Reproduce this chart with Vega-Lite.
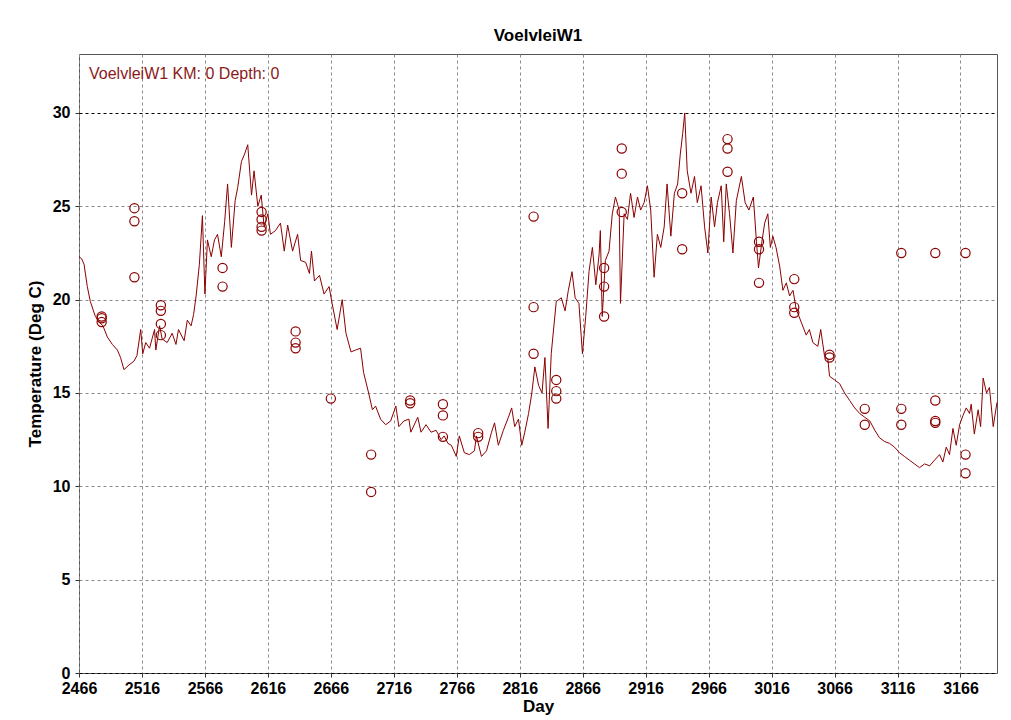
{
  "$schema": "https://vega.github.io/schema/vega-lite/v6.json",
  "width": 918,
  "height": 619,
  "autosize": {"type": "none"},
  "padding": {"left": 79, "top": 54, "right": 14, "bottom": 47},
  "background": "white",
  "title": {"text": "VoelvleiW1", "font": "Liberation Sans", "fontSize": 17, "fontWeight": "bold", "color": "#000000", "anchor": "middle", "offset": 9},
  "config": {
    "view": {"stroke": "#555555", "strokeWidth": 1},
    "font": "Liberation Sans",
    "axis": {"labelFont": "Liberation Sans", "labelFontSize": 16, "labelFontWeight": "bold", "labelColor": "#000000", "titleFont": "Liberation Sans", "titleFontSize": 17, "titleFontWeight": "bold", "titleColor": "#000000", "tickColor": "#333333", "tickSize": 4, "domain": false, "gridDash": [3, 3], "gridWidth": 1}
  },
  "datasets": {
    "sim": [
      {"day": 2466, "temp": 22.3}, {"day": 2468, "temp": 22.2}, {"day": 2470, "temp": 21.9}, {"day": 2472.6, "temp": 20.7}, {"day": 2475, "temp": 19.9}, {"day": 2479, "temp": 19.1}, {"day": 2482, "temp": 18.8}, {"day": 2485, "temp": 18.6}, {"day": 2488.5, "temp": 18.0}, {"day": 2492.5, "temp": 17.6}, {"day": 2496.5, "temp": 17.3}, {"day": 2499, "temp": 16.9}, {"day": 2501.7, "temp": 16.25}, {"day": 2505.7, "temp": 16.5}, {"day": 2509.6, "temp": 16.7}, {"day": 2512, "temp": 17.0}, {"day": 2515, "temp": 18.4}, {"day": 2516.6, "temp": 17.1}, {"day": 2519, "temp": 17.7}, {"day": 2522, "temp": 17.4}, {"day": 2526, "temp": 18.4}, {"day": 2527, "temp": 17.3}, {"day": 2530, "temp": 18.6}, {"day": 2532, "temp": 17.9}, {"day": 2536, "temp": 17.7}, {"day": 2540, "temp": 18.2}, {"day": 2543, "temp": 17.6}, {"day": 2545, "temp": 18.4}, {"day": 2549.5, "temp": 17.8}, {"day": 2552, "temp": 18.9}, {"day": 2555, "temp": 18.6}, {"day": 2557, "temp": 19.2}, {"day": 2559, "temp": 20.2}, {"day": 2561.6, "temp": 21.9}, {"day": 2564, "temp": 24.5}, {"day": 2566, "temp": 20.3}, {"day": 2568, "temp": 23.2}, {"day": 2571, "temp": 22.3}, {"day": 2573.6, "temp": 23.2}, {"day": 2576, "temp": 23.5}, {"day": 2579, "temp": 22.3}, {"day": 2581.7, "temp": 24.2}, {"day": 2584, "temp": 26.2}, {"day": 2587, "temp": 22.8}, {"day": 2590, "temp": 25.3}, {"day": 2592, "temp": 26.0}, {"day": 2595, "temp": 27.4}, {"day": 2597.5, "temp": 27.8}, {"day": 2600, "temp": 28.3}, {"day": 2603, "temp": 25.6}, {"day": 2605, "temp": 26.9}, {"day": 2608, "temp": 25.0}, {"day": 2610.7, "temp": 25.6}, {"day": 2613, "temp": 23.9}, {"day": 2616, "temp": 24.6}, {"day": 2618, "temp": 23.5}, {"day": 2622, "temp": 23.7}, {"day": 2626, "temp": 24.1}, {"day": 2629, "temp": 22.6}, {"day": 2631.7, "temp": 24.0}, {"day": 2635.6, "temp": 22.6}, {"day": 2639.6, "temp": 23.5}, {"day": 2642, "temp": 22.1}, {"day": 2646, "temp": 22.0}, {"day": 2649, "temp": 21.4}, {"day": 2650.6, "temp": 22.6}, {"day": 2653, "temp": 21.0}, {"day": 2657, "temp": 21.3}, {"day": 2660.6, "temp": 20.3}, {"day": 2664.6, "temp": 20.7}, {"day": 2667, "temp": 19.8}, {"day": 2671, "temp": 18.4}, {"day": 2675, "temp": 20.0}, {"day": 2678, "temp": 18.2}, {"day": 2682, "temp": 17.2}, {"day": 2685.6, "temp": 17.3}, {"day": 2689.6, "temp": 17.4}, {"day": 2692, "temp": 16.1}, {"day": 2696, "temp": 15.0}, {"day": 2699, "temp": 14.1}, {"day": 2701.5, "temp": 14.3}, {"day": 2705.5, "temp": 13.6}, {"day": 2709.5, "temp": 13.3}, {"day": 2713.5, "temp": 13.5}, {"day": 2717.6, "temp": 14.3}, {"day": 2720, "temp": 13.2}, {"day": 2724, "temp": 13.5}, {"day": 2728, "temp": 13.6}, {"day": 2729.5, "temp": 12.9}, {"day": 2735, "temp": 13.7}, {"day": 2737.6, "temp": 12.9}, {"day": 2741.6, "temp": 13.3}, {"day": 2745.6, "temp": 12.9}, {"day": 2749.6, "temp": 13.0}, {"day": 2753.5, "temp": 12.5}, {"day": 2756, "temp": 12.7}, {"day": 2759, "temp": 12.3}, {"day": 2761.7, "temp": 12.2}, {"day": 2765.6, "temp": 11.6}, {"day": 2768, "temp": 12.7}, {"day": 2772, "temp": 11.8}, {"day": 2776, "temp": 11.7}, {"day": 2780, "temp": 11.9}, {"day": 2781.6, "temp": 12.7}, {"day": 2785.6, "temp": 11.6}, {"day": 2789.6, "temp": 11.9}, {"day": 2793.6, "temp": 12.9}, {"day": 2796, "temp": 13.4}, {"day": 2799, "temp": 12.2}, {"day": 2803, "temp": 13.0}, {"day": 2807, "temp": 13.7}, {"day": 2809.6, "temp": 14.2}, {"day": 2812, "temp": 13.2}, {"day": 2815, "temp": 13.6}, {"day": 2817.6, "temp": 12.2}, {"day": 2820, "temp": 12.9}, {"day": 2823, "temp": 13.9}, {"day": 2825.6, "temp": 15.0}, {"day": 2828, "temp": 16.4}, {"day": 2831, "temp": 15.4}, {"day": 2833.7, "temp": 15.0}, {"day": 2836, "temp": 16.9}, {"day": 2838.5, "temp": 13.1}, {"day": 2841, "temp": 17.1}, {"day": 2845, "temp": 19.9}, {"day": 2849, "temp": 20.1}, {"day": 2852, "temp": 19.4}, {"day": 2854.6, "temp": 20.5}, {"day": 2857.5, "temp": 21.5}, {"day": 2860, "temp": 20.1}, {"day": 2863, "temp": 19.8}, {"day": 2865.8, "temp": 17.1}, {"day": 2868.4, "temp": 19.1}, {"day": 2871, "temp": 21.5}, {"day": 2873.7, "temp": 22.8}, {"day": 2876.4, "temp": 20.8}, {"day": 2879, "temp": 22.4}, {"day": 2880, "temp": 23.7}, {"day": 2881.5, "temp": 19.1}, {"day": 2884, "temp": 22.1}, {"day": 2886.9, "temp": 22.6}, {"day": 2889.5, "temp": 24.6}, {"day": 2892, "temp": 25.5}, {"day": 2895, "temp": 24.8}, {"day": 2896, "temp": 19.8}, {"day": 2898.9, "temp": 24.6}, {"day": 2901.5, "temp": 24.3}, {"day": 2904, "temp": 25.7}, {"day": 2906.8, "temp": 24.4}, {"day": 2909.5, "temp": 25.5}, {"day": 2912, "temp": 24.8}, {"day": 2914.8, "temp": 25.2}, {"day": 2917.4, "temp": 26.1}, {"day": 2920, "temp": 24.8}, {"day": 2922.7, "temp": 21.2}, {"day": 2925.3, "temp": 23.5}, {"day": 2928, "temp": 22.8}, {"day": 2930.7, "temp": 23.9}, {"day": 2933, "temp": 26.2}, {"day": 2936, "temp": 23.4}, {"day": 2938.8, "temp": 25.7}, {"day": 2941.4, "temp": 26.2}, {"day": 2943.5, "temp": 27.8}, {"day": 2945.4, "temp": 28.9}, {"day": 2947, "temp": 30.0}, {"day": 2949, "temp": 26.9}, {"day": 2952, "temp": 25.7}, {"day": 2954.8, "temp": 26.6}, {"day": 2957, "temp": 25.2}, {"day": 2960, "temp": 26.1}, {"day": 2962.8, "temp": 23.9}, {"day": 2965.4, "temp": 22.5}, {"day": 2968, "temp": 25.5}, {"day": 2970.7, "temp": 23.9}, {"day": 2973, "temp": 25.2}, {"day": 2976, "temp": 26.1}, {"day": 2978, "temp": 23.1}, {"day": 2980, "temp": 26.2}, {"day": 2982.6, "temp": 24.6}, {"day": 2985.3, "temp": 22.5}, {"day": 2988, "temp": 25.3}, {"day": 2992, "temp": 26.6}, {"day": 2995, "temp": 25.2}, {"day": 2998, "temp": 24.8}, {"day": 3001.5, "temp": 25.5}, {"day": 3004, "temp": 23.1}, {"day": 3005.6, "temp": 21.7}, {"day": 3008.3, "temp": 23.1}, {"day": 3010.5, "temp": 24.1}, {"day": 3013, "temp": 24.6}, {"day": 3015, "temp": 22.8}, {"day": 3017, "temp": 23.4}, {"day": 3019.5, "temp": 22.8}, {"day": 3022.4, "temp": 21.8}, {"day": 3025, "temp": 20.5}, {"day": 3027.7, "temp": 20.9}, {"day": 3030.3, "temp": 20.2}, {"day": 3033, "temp": 20.5}, {"day": 3035.5, "temp": 19.5}, {"day": 3039.5, "temp": 18.8}, {"day": 3043.5, "temp": 18.1}, {"day": 3046, "temp": 18.4}, {"day": 3048.8, "temp": 17.7}, {"day": 3052.7, "temp": 17.5}, {"day": 3055, "temp": 18.4}, {"day": 3058, "temp": 17.0}, {"day": 3060.7, "temp": 16.8}, {"day": 3062, "temp": 15.9}, {"day": 3066, "temp": 15.7}, {"day": 3070, "temp": 15.5}, {"day": 3074, "temp": 15.0}, {"day": 3078, "temp": 14.6}, {"day": 3082, "temp": 14.2}, {"day": 3086, "temp": 13.9}, {"day": 3090, "temp": 13.7}, {"day": 3094, "temp": 13.5}, {"day": 3098, "temp": 13.0}, {"day": 3101.7, "temp": 12.6}, {"day": 3105.7, "temp": 12.4}, {"day": 3109.7, "temp": 12.3}, {"day": 3113.6, "temp": 12.1}, {"day": 3117.6, "temp": 11.8}, {"day": 3121.5, "temp": 11.6}, {"day": 3125.5, "temp": 11.4}, {"day": 3129.5, "temp": 11.2}, {"day": 3133.5, "temp": 11.0}, {"day": 3137.5, "temp": 11.2}, {"day": 3141.5, "temp": 11.1}, {"day": 3145.4, "temp": 11.4}, {"day": 3149.4, "temp": 11.7}, {"day": 3152, "temp": 11.3}, {"day": 3154.7, "temp": 12.1}, {"day": 3157.3, "temp": 11.7}, {"day": 3160, "temp": 13.1}, {"day": 3162.6, "temp": 12.2}, {"day": 3165.3, "temp": 13.3}, {"day": 3168, "temp": 13.8}, {"day": 3170.6, "temp": 14.2}, {"day": 3173.2, "temp": 13.9}, {"day": 3174.5, "temp": 14.4}, {"day": 3177, "temp": 12.8}, {"day": 3180, "temp": 14.1}, {"day": 3182, "temp": 13.2}, {"day": 3184, "temp": 15.8}, {"day": 3186.7, "temp": 15.0}, {"day": 3189, "temp": 15.3}, {"day": 3192, "temp": 13.2}, {"day": 3195, "temp": 14.5}
    ],
    "obs": [
      {"day": 2484, "temp": 19.1}, {"day": 2484, "temp": 19.0}, {"day": 2484, "temp": 18.8},
      {"day": 2510, "temp": 24.9}, {"day": 2510, "temp": 24.2}, {"day": 2510, "temp": 21.2},
      {"day": 2531, "temp": 19.7}, {"day": 2531, "temp": 19.4}, {"day": 2531, "temp": 18.7}, {"day": 2531, "temp": 18.1},
      {"day": 2580, "temp": 21.7}, {"day": 2580, "temp": 20.7},
      {"day": 2611, "temp": 24.7}, {"day": 2611, "temp": 24.3}, {"day": 2611, "temp": 23.9}, {"day": 2611, "temp": 23.7},
      {"day": 2638, "temp": 18.3}, {"day": 2638, "temp": 17.7}, {"day": 2638, "temp": 17.4},
      {"day": 2666, "temp": 14.7},
      {"day": 2698, "temp": 11.7}, {"day": 2698, "temp": 9.7},
      {"day": 2729, "temp": 14.6}, {"day": 2729, "temp": 14.45},
      {"day": 2755, "temp": 14.4}, {"day": 2755, "temp": 13.8}, {"day": 2755, "temp": 12.65},
      {"day": 2783, "temp": 12.85}, {"day": 2783, "temp": 12.65},
      {"day": 2827, "temp": 24.45}, {"day": 2827, "temp": 19.6}, {"day": 2827, "temp": 17.1},
      {"day": 2845, "temp": 15.7}, {"day": 2845, "temp": 15.1}, {"day": 2845, "temp": 14.7},
      {"day": 2883, "temp": 21.7}, {"day": 2883, "temp": 20.7}, {"day": 2883, "temp": 19.1},
      {"day": 2897, "temp": 28.1}, {"day": 2897, "temp": 26.75}, {"day": 2897, "temp": 24.7},
      {"day": 2945, "temp": 25.7}, {"day": 2945, "temp": 22.7},
      {"day": 2981, "temp": 28.6}, {"day": 2981, "temp": 28.1}, {"day": 2981, "temp": 26.85},
      {"day": 3006, "temp": 23.1}, {"day": 3006, "temp": 22.7}, {"day": 3006, "temp": 20.9},
      {"day": 3034, "temp": 21.1}, {"day": 3034, "temp": 19.6}, {"day": 3034, "temp": 19.3},
      {"day": 3062, "temp": 17.05}, {"day": 3062, "temp": 16.9},
      {"day": 3090, "temp": 14.15}, {"day": 3090, "temp": 13.3},
      {"day": 3119, "temp": 22.5}, {"day": 3119, "temp": 14.15}, {"day": 3119, "temp": 13.3},
      {"day": 3146, "temp": 22.5}, {"day": 3146, "temp": 14.6}, {"day": 3146, "temp": 13.5}, {"day": 3146, "temp": 13.4},
      {"day": 3170, "temp": 22.5}, {"day": 3170, "temp": 11.7}, {"day": 3170, "temp": 10.7}
    ]
  },
  "encoding": {
    "x": {"field": "day", "type": "quantitative", "title": "Day",
      "scale": {"domain": [2466, 3195], "nice": false, "zero": false},
      "axis": {"values": [2466, 2516, 2566, 2616, 2666, 2716, 2766, 2816, 2866, 2916, 2966, 3016, 3066, 3116, 3166], "format": "d", "labelPadding": 3, "titlePadding": 2, "gridColor": "#8a8a8a", "labelFlush": false}},
    "y": {"field": "temp", "type": "quantitative", "title": "Temperature (Deg C)",
      "scale": {"domain": [0, 33.16], "nice": false},
      "axis": {"values": [0, 5, 10, 15, 20, 25, 30], "labelPadding": 5, "titlePadding": 8,
        "gridColor": {"condition": {"test": "datum.value === 30 || datum.value === 0", "value": "#000000"}, "value": "#8a8a8a"}}}
  },
  "layer": [
    {
      "data": {"name": "sim"},
      "mark": {"type": "line", "strokeWidth": 1, "interpolate": "linear"},
      "encoding": {
        "color": {"datum": "VoelvleiW1 KM: 0 Depth: 0", "type": "nominal",
          "scale": {"range": ["#8b0000"]},
          "legend": {"title": null, "orient": "top-left", "offset": 12, "padding": 0, "symbolSize": 0.01, "symbolStrokeWidth": 0, "symbolOpacity": 0, "labelOffset": -18, "labelFont": "Liberation Sans", "labelFontSize": 16, "labelColor": "#8b1a1a", "labelLimit": 400}}
      }
    },
    {
      "data": {"name": "obs"},
      "mark": {"type": "point", "shape": "circle", "filled": false, "size": 85, "strokeWidth": 1.2, "color": "#8b0000", "opacity": 1}
    }
  ]
}
